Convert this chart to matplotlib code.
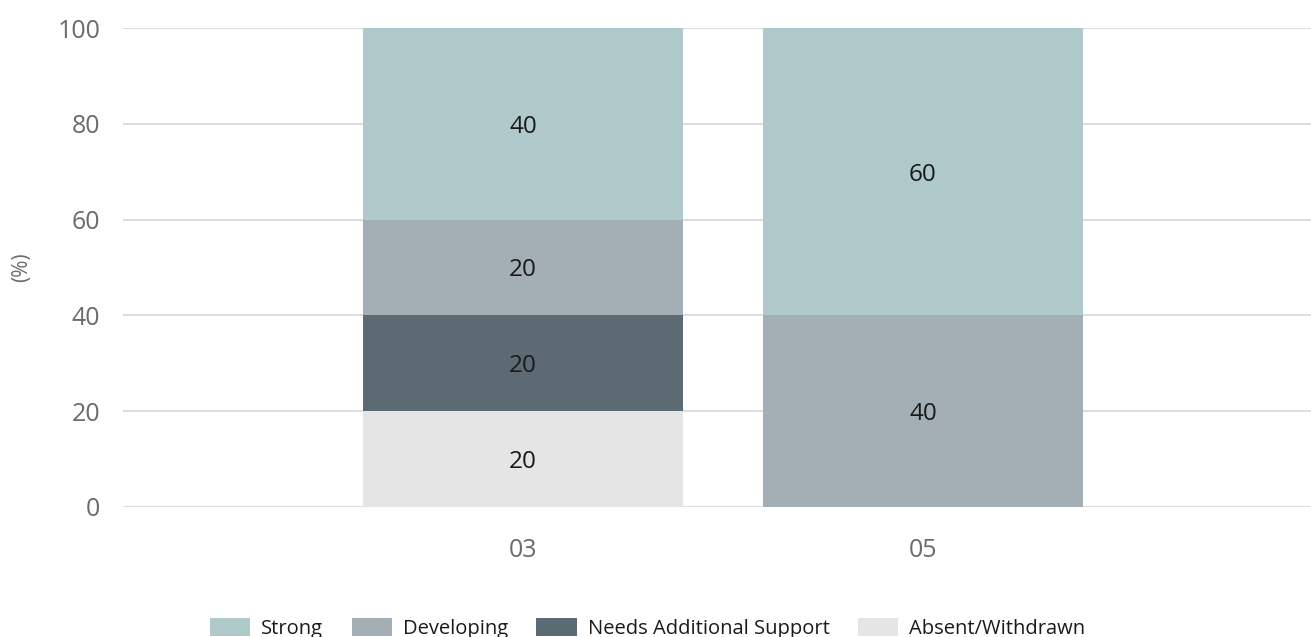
import numpy as np
import matplotlib
matplotlib.use("Agg")
from matplotlib import pyplot as plt

plt.rcParams['font.family'] = ['Open Sans', 'DejaVu Sans']

# data
categories = ['03', '05']
series = ['Strong', 'Developing', 'Needs Additional Support', 'Absent/Withdrawn']
strong = [40, 60]
developing = [20, 40]
needs_support = [20, 0]
absent = [20, 0]
colors = ['#b0c9ca', '#a3afb5', '#5c6a74', '#e5e5e5']

fig = plt.figure(figsize=(13.11, 6.37), dpi=100)
ax = fig.add_axes([123 / 1311, 1 - 507 / 637, 1 - 123 / 1311, (507 - 28) / 637])

x = np.arange(len(categories))
stack = [absent, needs_support, developing, strong]
stack_cols = colors[::-1]
stack_names = series[::-1]
bottom = np.zeros(len(categories))
handles = {}
for vals, col, name in zip(stack, stack_cols, stack_names):
    vals = np.array(vals, dtype=float)
    b = ax.bar(x, vals, 0.8, bottom=bottom, color=col, zorder=2, label=name)
    handles[name] = b
    for xi, v, bt in zip(x, vals, bottom):
        if v > 0:
            ax.text(xi, bt + v / 2, f'{int(v)}', ha='center', va='center_baseline',
                    fontsize=17.5, color='#1a1a1a', zorder=3)
    bottom += vals

ax.set_xlim(-1, 1.97)
ax.set_ylim(0, 100)
ax.set_yticks([0, 20, 40, 60, 80, 100])
ax.set_xticks(x)
ax.set_xticklabels(categories)
ax.yaxis.grid(True, color='#dddddd', linewidth=1.5, zorder=0)
ax.set_axisbelow(True)
for s in ax.spines.values():
    s.set_visible(False)
ax.tick_params(axis='both', length=0, labelsize=18, labelcolor='#6b6b6b')
ax.tick_params(axis='y', pad=16.5)
ax.tick_params(axis='x', pad=22)
ax.set_ylabel('(%)', fontsize=15, color='#6b6b6b', labelpad=18)

fig.legend([handles[n] for n in series], series, loc='lower center',
           bbox_to_anchor=(0.494, -0.031), ncol=4, frameon=False, fontsize=14.5,
           handlelength=2.0, handleheight=1.0, handletextpad=0.55,
           columnspacing=1.4, labelcolor='#1a1a1a')

fig.savefig('out.png', dpi=100)
